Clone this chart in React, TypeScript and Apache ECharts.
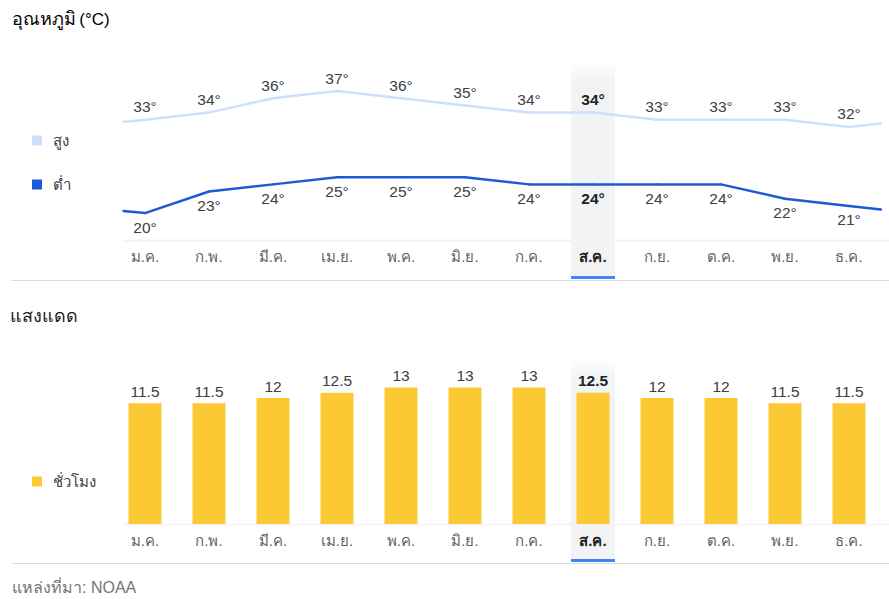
import React, { useEffect, useRef } from "react";
import * as echarts from "echarts";

const months = ["ม.ค.", "ก.พ.", "มี.ค.", "เม.ย.", "พ.ค.", "มิ.ย.", "ก.ค.", "ส.ค.", "ก.ย.", "ต.ค.", "พ.ย.", "ธ.ค."];
const highTemps = [33, 34, 36, 37, 36, 35, 34, 34, 33, 33, 33, 32];
const lowTemps = [20, 23, 24, 25, 25, 25, 24, 24, 24, 24, 22, 21];
const sunHours = [11.5, 11.5, 12, 12.5, 13, 13, 13, 12.5, 12, 12, 11.5, 11.5];
// where the temperature lines meet the left / right edges of the plot
const edgePositions = [-0.34, 11.5];
const highEdge = [32.7, 32.5];
const lowEdge = [20.3, 20.5];
const selectedMonth = "ส.ค.";

const W = 889;
const H = 599;
const GRID_LEFT = 113;
const GRID_RIGHT = 8;
const FONT = 'Arial, "Liberation Sans", "Noto Sans", sans-serif';
const HIGH_COLOR = "#cddffc";
const LOW_COLOR = "#1c5ad8";
const BAR_COLOR = "#fcc934";
const BLUE = "#4285f4";
const LABEL_COLOR = "#3c4043";
const MONTH_COLOR = "#5f6368";
const DARK = "#202124";

export default function App() {
  const ref = useRef<HTMLDivElement>(null);

  useEffect(() => {
    document.body.style.margin = "0";
    if (!ref.current) return;
    const chart = echarts.init(ref.current, null, { renderer: "svg" });
    const selIdx = months.indexOf(selectedMonth);
    const band = (W - GRID_LEFT - GRID_RIGHT) / months.length;
    const cx = GRID_LEFT + (selIdx + 0.5) * band;

    const monthData = months.map((m, i) =>
      i === selIdx ? { value: m, textStyle: { fontWeight: "bold", color: DARK } } : m
    );

    const lineData = (vals: number[], edges: number[]) => [
      { value: [edgePositions[0], edges[0]], label: { show: false } },
      ...vals.map((v, i) =>
        i === selIdx
          ? { value: [i, v], label: { fontWeight: "bold", color: DARK } }
          : { value: [i, v] }
      ),
      { value: [edgePositions[1], edges[1]], label: { show: false } },
    ];

    const axisLabelStyle = {
      fontSize: 15,
      color: MONTH_COLOR,
      fontFamily: FONT,
      margin: 9,
    };

    const makeFill = () =>
      new echarts.graphic.LinearGradient(0, 0, 0, 1, [
        { offset: 0, color: "rgba(241,243,244,0)" },
        { offset: 0.1, color: "#f1f3f4" },
        { offset: 1, color: "#f1f3f4" },
      ]);

    const legendText = {
      fontSize: 15,
      color: LABEL_COLOR,
      fontFamily: FONT,
      lineHeight: 14,
      padding: [0, 0, 0, 6],
    };

    chart.setOption({
      animation: false,
      textStyle: { fontFamily: FONT },
      grid: [
        { left: GRID_LEFT, right: GRID_RIGHT, top: 53.4, height: 186.6 },
        { left: GRID_LEFT, right: GRID_RIGHT, top: 366.5, height: 157.5 },
      ],
      xAxis: [
        {
          type: "category",
          gridIndex: 0,
          data: monthData,
          boundaryGap: true,
          axisLine: { show: false },
          axisTick: { show: false },
          splitLine: { show: false },
          axisLabel: axisLabelStyle,
          z: 5,
        },
        { type: "value", gridIndex: 0, min: -0.5, max: 11.5, show: false },
        {
          type: "category",
          gridIndex: 1,
          data: monthData,
          boundaryGap: true,
          axisLine: { show: false },
          axisTick: { show: false },
          splitLine: { show: false },
          axisLabel: axisLabelStyle,
          z: 5,
        },
      ],
      yAxis: [
        { type: "value", gridIndex: 0, min: 16.25, max: 42.25, show: false },
        { type: "value", gridIndex: 1, min: 0, max: 15, show: false },
      ],
      legend: [
        {
          orient: "vertical",
          left: 27,
          top: 128,
          itemWidth: 10,
          itemHeight: 10,
          itemGap: 29,
          icon: "rect",
          selectedMode: false,
          data: [
            { name: "สูง", itemStyle: { color: HIGH_COLOR } },
            { name: "ต่ำ", itemStyle: { color: LOW_COLOR } },
          ],
          textStyle: legendText,
        },
        {
          orient: "vertical",
          left: 27,
          top: 469,
          itemWidth: 10,
          itemHeight: 10,
          icon: "rect",
          selectedMode: false,
          data: [{ name: "ชั่วโมง", itemStyle: { color: BAR_COLOR } }],
          textStyle: legendText,
        },
      ],
      series: [
        {
          type: "line",
          name: "สูง",
          xAxisIndex: 1,
          yAxisIndex: 0,
          data: lineData(highTemps, highEdge),
          symbol: "circle",
          symbolSize: 2,
          itemStyle: { color: HIGH_COLOR },
          lineStyle: { color: HIGH_COLOR, width: 2.5 },
          label: {
            show: true,
            position: "top",
            distance: 4,
            fontSize: 15.5,
            color: LABEL_COLOR,
            fontFamily: FONT,
            formatter: (p: any) => p.value[1] + "°",
          },
          z: 3,
        },
        {
          type: "line",
          name: "ต่ำ",
          xAxisIndex: 1,
          yAxisIndex: 0,
          data: lineData(lowTemps, lowEdge),
          symbol: "circle",
          symbolSize: 2,
          itemStyle: { color: LOW_COLOR },
          lineStyle: { color: LOW_COLOR, width: 2.5 },
          label: {
            show: true,
            position: "bottom",
            distance: 5,
            fontSize: 15.5,
            color: LABEL_COLOR,
            fontFamily: FONT,
            formatter: (p: any) => p.value[1] + "°",
          },
          z: 3,
        },
        {
          type: "bar",
          name: "ชั่วโมง",
          xAxisIndex: 2,
          yAxisIndex: 1,
          barWidth: 33,
          itemStyle: { color: BAR_COLOR },
          data: sunHours.map((v, i) =>
            i === selIdx ? { value: v, label: { fontWeight: "bold", color: DARK } } : v
          ),
          label: {
            show: true,
            position: "top",
            distance: 4,
            fontSize: 15.5,
            color: LABEL_COLOR,
            fontFamily: FONT,
          },
          z: 3,
        },
      ],
      graphic: [
        {
          type: "text",
          left: 12,
          top: 10,
          style: {
            text: "{a|อุณหภูมิ} {b|(°C)}",
            rich: {
              a: { fontSize: 18, color: DARK, fontFamily: FONT },
              b: { fontSize: 17, color: "#70757a", fontFamily: FONT },
            },
          },
        },
        {
          type: "text",
          left: 10,
          top: 307,
          style: { text: "แสงแดด", fontSize: 18, fill: DARK, fontFamily: FONT },
        },
        {
          type: "text",
          left: 12,
          top: 579,
          style: { text: "แหล่งที่มา: NOAA", fontSize: 16, fill: "#70757a", fontFamily: FONT },
        },
        // highlighted month columns
        {
          type: "rect",
          z: -1,
          shape: { x: cx - 22, y: 60, width: 44, height: 216 },
          style: { fill: makeFill() },
        },
        {
          type: "rect",
          z: -1,
          shape: { x: cx - 22, y: 276, width: 44, height: 3 },
          style: { fill: BLUE },
        },
        {
          type: "rect",
          z: -1,
          shape: { x: cx - 22, y: 358, width: 44, height: 201 },
          style: { fill: makeFill() },
        },
        {
          type: "rect",
          z: -1,
          shape: { x: cx - 22, y: 559, width: 44, height: 3 },
          style: { fill: BLUE },
        },
        // axis baselines
        {
          type: "line",
          z: -1,
          shape: { x1: 123, y1: 240.5, x2: W, y2: 240.5 },
          style: { stroke: "#f1f3f4", lineWidth: 2 },
        },
        {
          type: "line",
          z: -1,
          shape: { x1: 123, y1: 524.5, x2: W, y2: 524.5 },
          style: { stroke: "#f1f3f4", lineWidth: 2 },
        },
        // section separators
        {
          type: "line",
          shape: { x1: 11, y1: 280.5, x2: W, y2: 280.5 },
          style: { stroke: "#dadce0", lineWidth: 1 },
        },
        {
          type: "line",
          shape: { x1: 12, y1: 563.5, x2: W, y2: 563.5 },
          style: { stroke: "#dadce0", lineWidth: 1 },
        },
      ],
    });

    return () => chart.dispose();
  }, []);

  return <div ref={ref} style={{ width: W, height: H }} />;
}
